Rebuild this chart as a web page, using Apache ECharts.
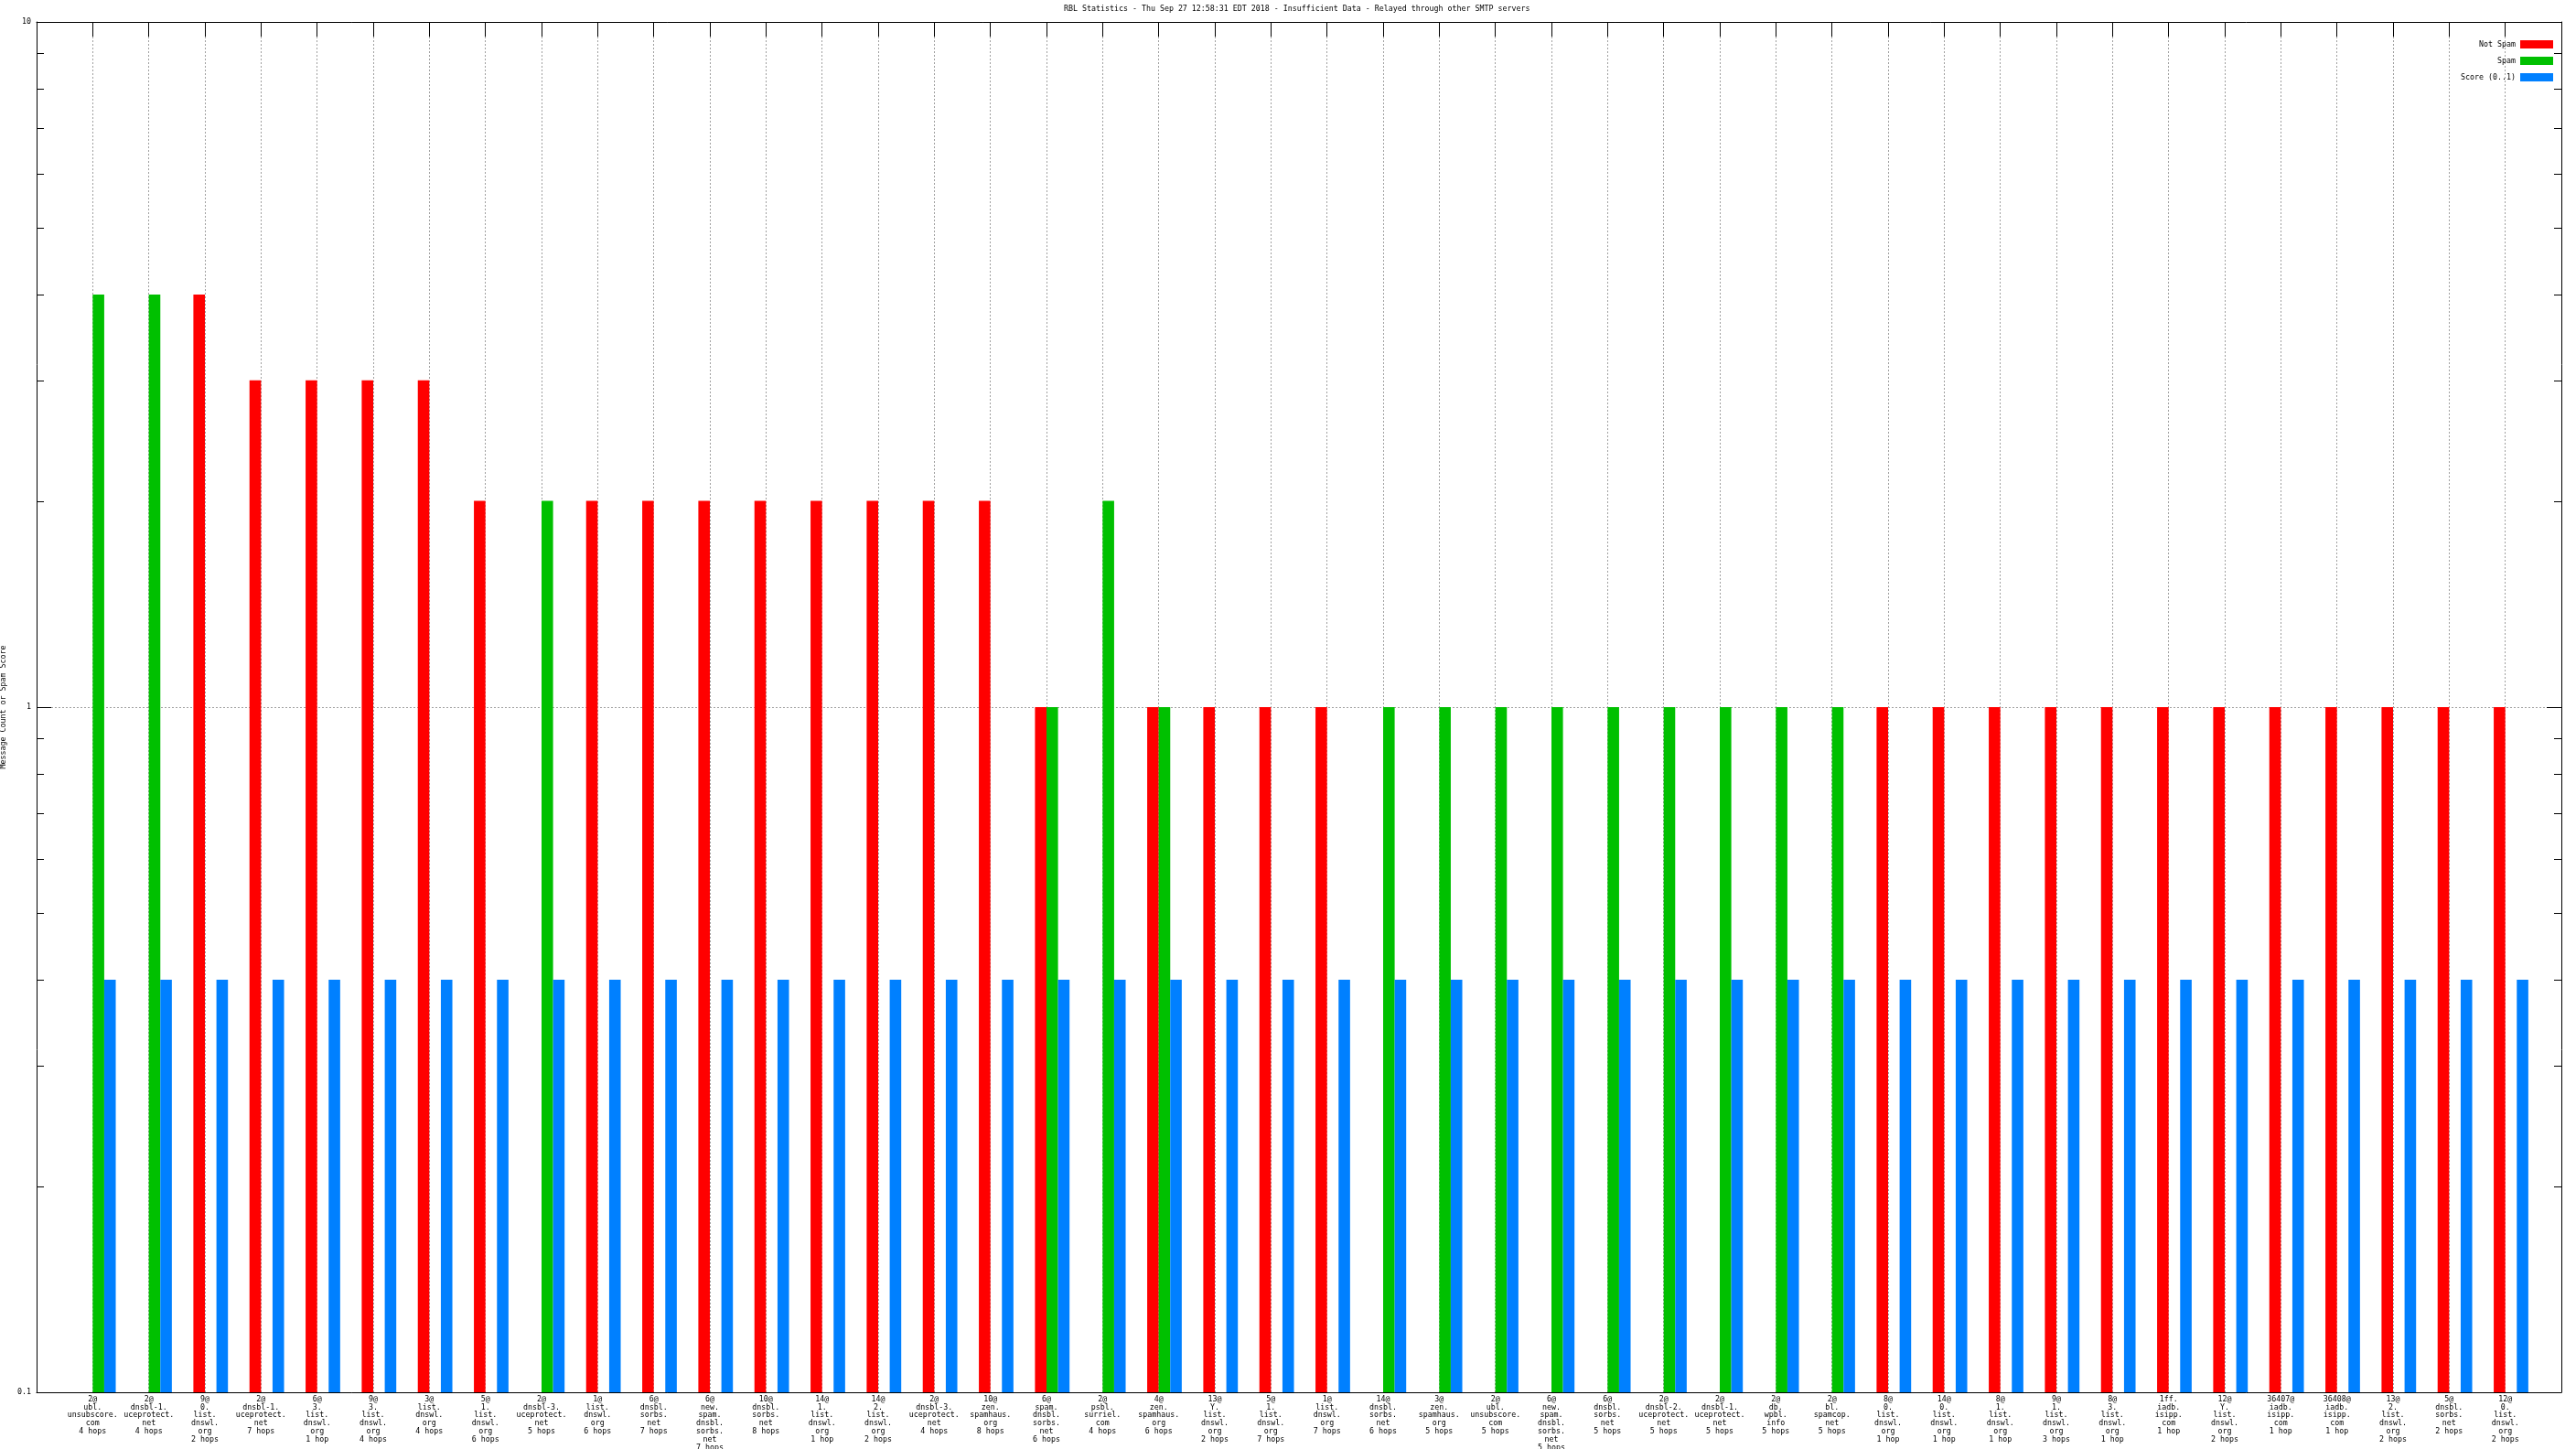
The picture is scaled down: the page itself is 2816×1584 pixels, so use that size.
<!DOCTYPE html>
<html>
<head>
<meta charset="utf-8">
<script src="https://cdn.jsdelivr.net/npm/echarts@6/dist/echarts.min.js"></script>
<style>
html,body{margin:0;padding:0;background:#fff;}
#c{width:2816px;height:1584px;}
</style>
</head>
<body>
<div id="c"></div>
<script>
const titleText = 'RBL Statistics - Thu Sep 27 12:58:31 EDT 2018 - Insufficient Data - Relayed through other SMTP servers';
const yAxisName = 'Message Count or Spam Score';
const seriesNames = ['Not Spam', 'Spam', 'Score (0..1)'];
const seriesColors = ['#ff0000', '#00c000', '#0080ff'];
const yTickLabels = {0.1: '0.1', 1: '1', 10: '10'};

const categories = [
  '2@\nubl.\nunsubscore.\ncom\n4 hops',
  '2@\ndnsbl-1.\nuceprotect.\nnet\n4 hops',
  '9@\n0.\nlist.\ndnswl.\norg\n2 hops',
  '2@\ndnsbl-1.\nuceprotect.\nnet\n7 hops',
  '6@\n3.\nlist.\ndnswl.\norg\n1 hop',
  '9@\n3.\nlist.\ndnswl.\norg\n4 hops',
  '3@\nlist.\ndnswl.\norg\n4 hops',
  '5@\n1.\nlist.\ndnswl.\norg\n6 hops',
  '2@\ndnsbl-3.\nuceprotect.\nnet\n5 hops',
  '1@\nlist.\ndnswl.\norg\n6 hops',
  '6@\ndnsbl.\nsorbs.\nnet\n7 hops',
  '6@\nnew.\nspam.\ndnsbl.\nsorbs.\nnet\n7 hops',
  '10@\ndnsbl.\nsorbs.\nnet\n8 hops',
  '14@\n1.\nlist.\ndnswl.\norg\n1 hop',
  '14@\n2.\nlist.\ndnswl.\norg\n2 hops',
  '2@\ndnsbl-3.\nuceprotect.\nnet\n4 hops',
  '10@\nzen.\nspamhaus.\norg\n8 hops',
  '6@\nspam.\ndnsbl.\nsorbs.\nnet\n6 hops',
  '2@\npsbl.\nsurriel.\ncom\n4 hops',
  '4@\nzen.\nspamhaus.\norg\n6 hops',
  '13@\nY.\nlist.\ndnswl.\norg\n2 hops',
  '5@\n1.\nlist.\ndnswl.\norg\n7 hops',
  '1@\nlist.\ndnswl.\norg\n7 hops',
  '14@\ndnsbl.\nsorbs.\nnet\n6 hops',
  '3@\nzen.\nspamhaus.\norg\n5 hops',
  '2@\nubl.\nunsubscore.\ncom\n5 hops',
  '6@\nnew.\nspam.\ndnsbl.\nsorbs.\nnet\n5 hops',
  '6@\ndnsbl.\nsorbs.\nnet\n5 hops',
  '2@\ndnsbl-2.\nuceprotect.\nnet\n5 hops',
  '2@\ndnsbl-1.\nuceprotect.\nnet\n5 hops',
  '2@\ndb.\nwpbl.\ninfo\n5 hops',
  '2@\nbl.\nspamcop.\nnet\n5 hops',
  '8@\n0.\nlist.\ndnswl.\norg\n1 hop',
  '14@\n0.\nlist.\ndnswl.\norg\n1 hop',
  '8@\n1.\nlist.\ndnswl.\norg\n1 hop',
  '9@\n1.\nlist.\ndnswl.\norg\n3 hops',
  '8@\n3.\nlist.\ndnswl.\norg\n1 hop',
  '1ff.\niadb.\nisipp.\ncom\n1 hop',
  '12@\nY.\nlist.\ndnswl.\norg\n2 hops',
  '36407@\niadb.\nisipp.\ncom\n1 hop',
  '36408@\niadb.\nisipp.\ncom\n1 hop',
  '13@\n2.\nlist.\ndnswl.\norg\n2 hops',
  '5@\ndnsbl.\nsorbs.\nnet\n2 hops',
  '12@\n0.\nlist.\ndnswl.\norg\n2 hops'
];

const notSpam = [null, null, 4, 3, 3, 3, 3, 2, null, 2, 2, 2, 2, 2, 2, 2, 2, 1, null, 1, 1, 1, 1,
  null, null, null, null, null, null, null, null, null, 1, 1, 1, 1, 1, 1, 1, 1, 1, 1, 1, 1];
const spam = [4, 4, null, null, null, null, null, null, 2, null, null, null, null, null, null, null, null, 1, 2, 1, null, null, null,
  1, 1, 1, 1, 1, 1, 1, 1, 1, null, null, null, null, null, null, null, null, null, null, null, null];
const score = [0.4, 0.4, 0.4, 0.4, 0.4, 0.4, 0.4, 0.4, 0.4, 0.4, 0.4, 0.4, 0.4, 0.4, 0.4, 0.4, 0.4, 0.4, 0.4, 0.4, 0.4, 0.4,
  0.4, 0.4, 0.4, 0.4, 0.4, 0.4, 0.4, 0.4, 0.4, 0.4, 0.4, 0.4, 0.4, 0.4, 0.4, 0.4, 0.4, 0.4, 0.4, 0.4, 0.4, 0.4];

const FONT = 'DejaVu Sans Mono';
const FS = 8.3;
const pad = a => ['-'].concat(a.map(v => v == null ? '-' : v)).concat(['-']);
const paddedCats = [''].concat(categories).concat(['']);
const emptyData = paddedCats.map(() => '-');

const chart = echarts.init(document.getElementById('c'), null, {renderer: 'canvas'});
const BW = 12.6;
const GRID = {left: 40, top: 24, right: 16, bottom: 62};

const barSeries = (name, data, color) => ({
  name: name, type: 'bar', xAxisIndex: 0, yAxisIndex: 0,
  data: pad(data), barWidth: BW, barGap: '0%',
  itemStyle: {color: color}, animation: false, silent: true
});

chart.setOption({
  animation: false,
  backgroundColor: '#ffffff',
  title: {
    text: titleText, left: 1163, top: 6, padding: 0,
    textStyle: {fontFamily: FONT, fontSize: FS, fontWeight: 'normal', color: '#000'}
  },
  legend: {
    orient: 'vertical', right: 20, top: 39, align: 'right',
    itemWidth: 36, itemHeight: 9, itemGap: 9, icon: 'rect',
    data: seriesNames,
    textStyle: {fontFamily: FONT, fontSize: FS, color: '#000', lineHeight: 9}
  },
  grid: {left: GRID.left, top: GRID.top, right: GRID.right, bottom: GRID.bottom, show: false,
    containLabel: false, outerBoundsMode: 'none'},
  xAxis: [
    {
      type: 'category', data: paddedCats, boundaryGap: false, position: 'bottom',
      axisLine: {show: true, lineStyle: {color: '#000', width: 1}},
      axisTick: {show: false},
      axisLabel: {interval: 0, margin: 3, fontFamily: FONT, fontSize: FS, lineHeight: 8.9, color: '#000', hideOverlap: false},
      splitLine: {show: true, interval: 0, lineStyle: {color: '#a0a0a0', type: [2, 2], width: 1}}
    },
    {
      type: 'category', data: paddedCats, boundaryGap: false, position: 'top',
      axisLine: {show: true, lineStyle: {color: '#000', width: 1}},
      axisTick: {show: true, inside: true, length: 16, interval: 0, lineStyle: {color: '#000', width: 1}},
      axisLabel: {show: false}, splitLine: {show: false}
    }
  ],
  yAxis: [
    {
      type: 'log', logBase: 10, min: 0.1, max: 10, startValue: 0.1, position: 'left',
      name: yAxisName, nameLocation: 'middle', nameGap: 26, nameRotate: 90,
      nameTextStyle: {fontFamily: FONT, fontSize: FS, color: '#000'},
      axisLine: {show: true, lineStyle: {color: '#000', width: 1}},
      axisTick: {show: true, inside: true, length: 16, lineStyle: {color: '#000', width: 1}},
      axisLabel: {show: true, margin: 6, fontFamily: FONT, fontSize: FS, color: '#000',
        formatter: v => yTickLabels[Math.round(v * 10) / 10] || ''},
      splitLine: {show: true, lineStyle: {color: '#a0a0a0', type: [2, 2], width: 1}}
    },
    {
      type: 'log', logBase: 10, min: 0.1, max: 10, position: 'right',
      axisLine: {show: true, lineStyle: {color: '#000', width: 1}},
      axisTick: {show: true, inside: true, length: 16, lineStyle: {color: '#000', width: 1}},
      axisLabel: {show: false}, splitLine: {show: false}
    }
  ],
  series: [
    {name: '_pad', type: 'bar', xAxisIndex: 0, yAxisIndex: 0, data: emptyData, barWidth: BW, barGap: '0%', silent: true},
    barSeries(seriesNames[0], notSpam, seriesColors[0]),
    barSeries(seriesNames[1], spam, seriesColors[1]),
    barSeries(seriesNames[2], score, seriesColors[2])
  ]
});

// minor log ticks (2..9 in each decade) on both sides, positioned with the axis scale
const minorVals = [];
[0.1, 1].forEach(d => { for (let k = 2; k <= 9; k++) minorVals.push(+(k * d).toFixed(2)); });
const leftX = GRID.left, rightX = 2816 - GRID.right;
const graphics = [];
minorVals.forEach(v => {
  const y = Math.round(chart.convertToPixel({yAxisIndex: 0}, v)) + 0.5;
  graphics.push({type: 'line', silent: true, shape: {x1: leftX, y1: y, x2: leftX + 8, y2: y}, style: {stroke: '#000', lineWidth: 1}});
  graphics.push({type: 'line', silent: true, shape: {x1: rightX - 8, y1: y, x2: rightX, y2: y}, style: {stroke: '#000', lineWidth: 1}});
});
chart.setOption({graphic: graphics});
</script>
</body>
</html>
